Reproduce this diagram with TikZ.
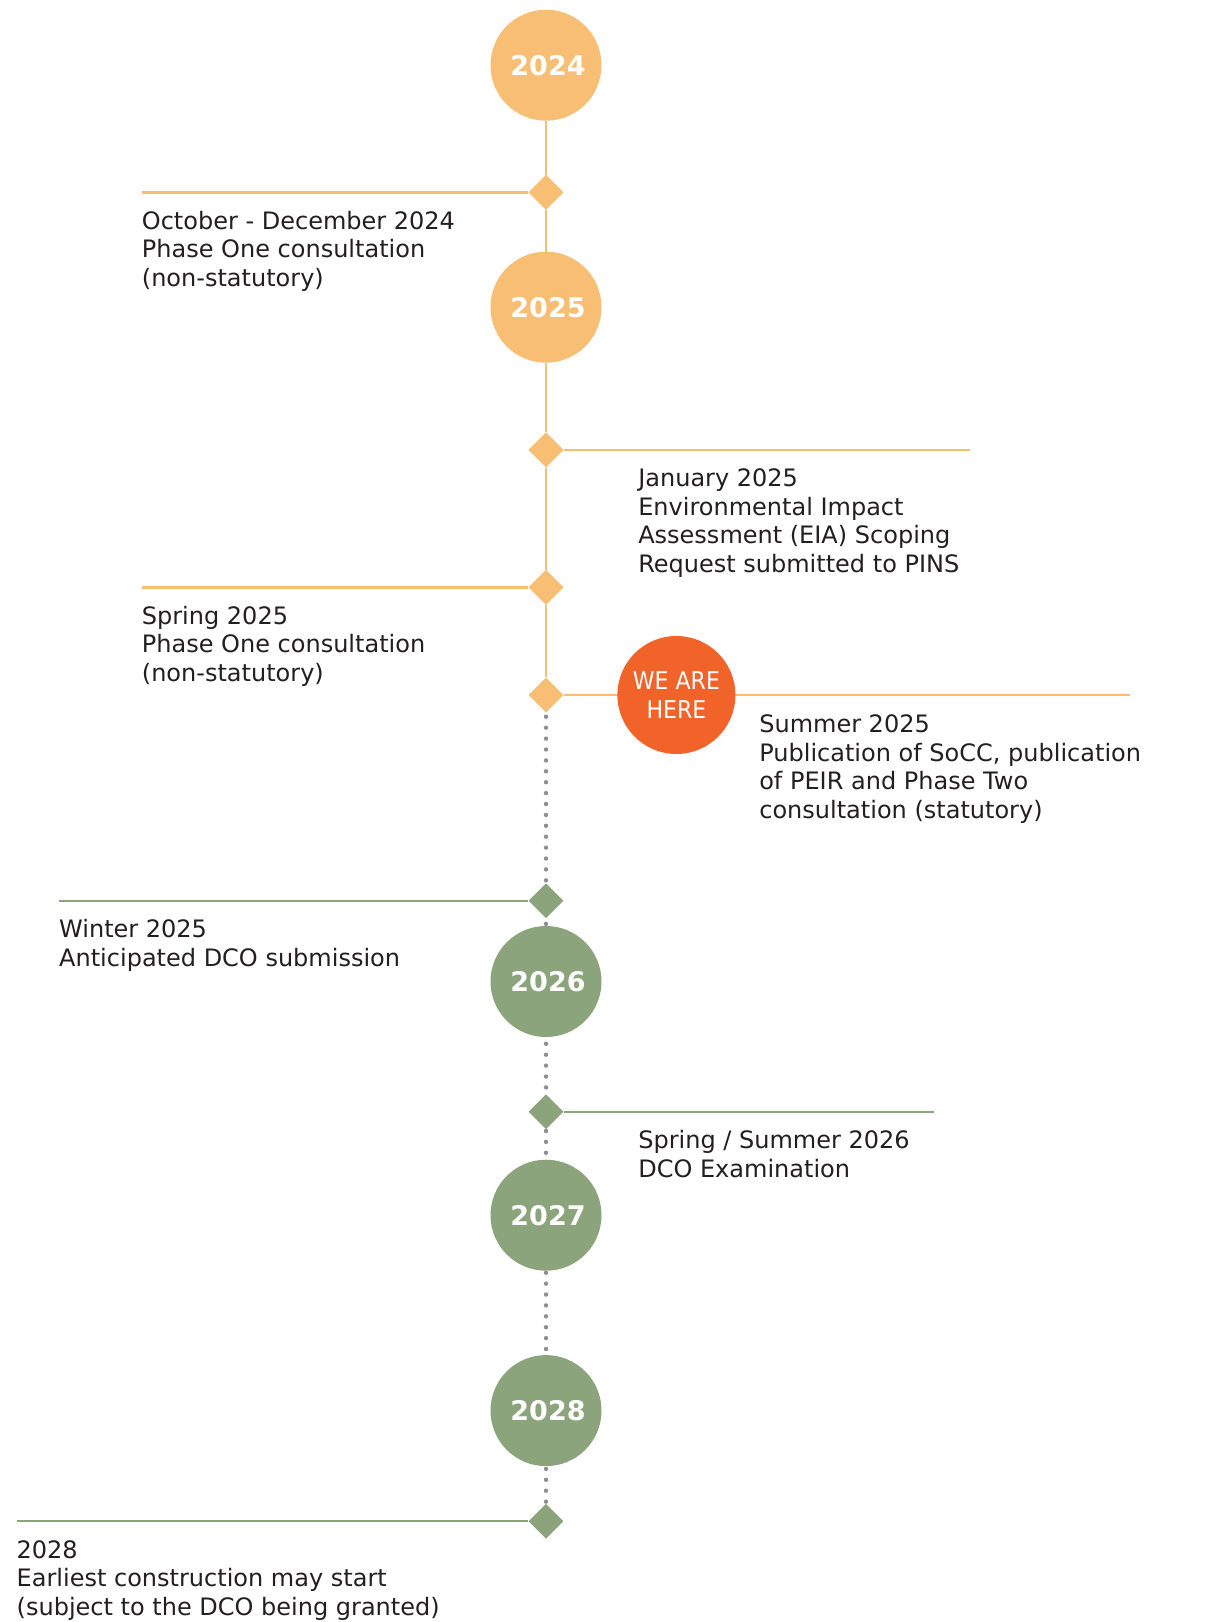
\documentclass[tikz,border=0pt]{standalone}
\usepackage{fontspec}
\setmainfont{DejaVu Sans}
\newfontfamily\herefont[FakeStretch=0.9]{DejaVu Sans}
\usetikzlibrary{shapes.geometric,backgrounds}
\definecolor{amber}{HTML}{F7BE74}
\definecolor{sage}{HTML}{8BA47C}
\definecolor{flame}{HTML}{F2632A}
\definecolor{dotgray}{HTML}{8E8E94}
\definecolor{ink}{HTML}{231F20}
\newcommand{\yr}[1]{\hspace*{4pt}#1}
\begin{document}
\begin{tikzpicture}[x=1pt,y=-1pt,
  year/.style={circle,minimum size=111pt,inner sep=0pt,text=white,font=\fontsize{27}{30}\selectfont\bfseries},
  milestone/.style={diamond,minimum size=35pt,inner sep=0pt},
  desc/.style={anchor=base west,inner sep=0pt,text=ink,font=\fontsize{24}{28.5}\selectfont},
  spine/.style={line width=2.6pt},
  hline/.style={line width=2.2pt},
  dots/.style={draw=dotgray,line width=4.4pt,line cap=round,dash pattern=on 0pt off 10.9pt}]
\useasboundingbox (0,0) rectangle (1208,1622);

% year circles
\node[year,fill=amber] (y24) at (546,65.2) {\yr{2024}};
\node[year,fill=amber] (y25) at (546,307.2) {\yr{2025}};
\node[year,fill=sage] (y26) at (546,981.5) {\yr{2026}};
\node[year,fill=sage] (y27) at (546,1215.2) {\yr{2027}};
\node[year,fill=sage] (y28) at (546,1410.6) {\yr{2028}};

% milestones
\node[milestone,fill=amber] (d1) at (546,192.4) {};
\node[milestone,fill=amber] (d2) at (546,449.9) {};
\node[milestone,fill=amber] (d3) at (546,587.4) {};
\node[milestone,fill=amber] (d4) at (546,695) {};
\node[milestone,fill=sage] (d5) at (546,900.8) {};
\node[milestone,fill=sage] (d6) at (546,1111.8) {};
\node[milestone,fill=sage] (d7) at (546,1521.3) {};

% we are here
\node[circle,fill=flame,minimum size=118pt,inner sep=0pt,text=white,align=center,
      font=\herefont\fontsize{24.5}{28.5}\selectfont] (here) at (676.4,695) {WE ARE\\HERE};

% line ends
\coordinate (e1) at (141.7,192.4);
\coordinate (e2) at (970,449.9);
\coordinate (e3) at (141.7,587.4);
\coordinate (e4) at (1130,695);
\coordinate (e5) at (59,900.8);
\coordinate (e6) at (934,1111.8);
\coordinate (e7) at (16.5,1521.3);

\begin{pgfonlayer}{background}
  \fill[white] (0,0) rectangle (1208,1622);
  \draw[spine,amber] (y24) -- (d1) -- (y25);
  \draw[spine,amber] (y25) -- (d2) -- (d3) -- (d4);
  \draw[dots] (d4.center) -- (d7.center);
  \draw[hline,amber] (d1) -- (e1);
  \draw[hline,amber] (d2) -- (e2);
  \draw[hline,amber] (d3) -- (e3);
  \draw[hline,amber] (d4) -- (e4);
  \draw[hline,sage] (d5) -- (e5);
  \draw[hline,sage] (d6) -- (e6);
  \draw[hline,sage] (d7) -- (e7);
\end{pgfonlayer}

% descriptions
\node[desc] (t1) at (141.7,229.2) {\parbox[t]{600pt}{\raggedright October - December 2024\\Phase One consultation\\(non-statutory)}};
\node[desc] (t2) at (638.1,486.7) {\parbox[t]{600pt}{\raggedright January 2025\\Environmental Impact\\Assessment (EIA) Scoping\\Request submitted to PINS}};
\node[desc] (t3) at (141.7,624.2) {\parbox[t]{600pt}{\raggedright Spring 2025\\Phase One consultation\\(non-statutory)}};
\node[desc] (t4) at (759.1,732.5) {\parbox[t]{600pt}{\raggedright Summer 2025\\Publication of SoCC, publication\\of PEIR and Phase Two\\consultation (statutory)}};
\node[desc] (t5) at (59,937.6) {\parbox[t]{600pt}{\raggedright Winter 2025\\Anticipated DCO submission}};
\node[desc] (t6) at (638.1,1148.6) {\parbox[t]{600pt}{\raggedright Spring / Summer 2026\\DCO Examination}};
\node[desc] (t7) at (16.5,1558.1) {\parbox[t]{600pt}{\raggedright 2028\\Earliest construction may start\\(subject to the DCO being granted)}};
\end{tikzpicture}
\end{document}
